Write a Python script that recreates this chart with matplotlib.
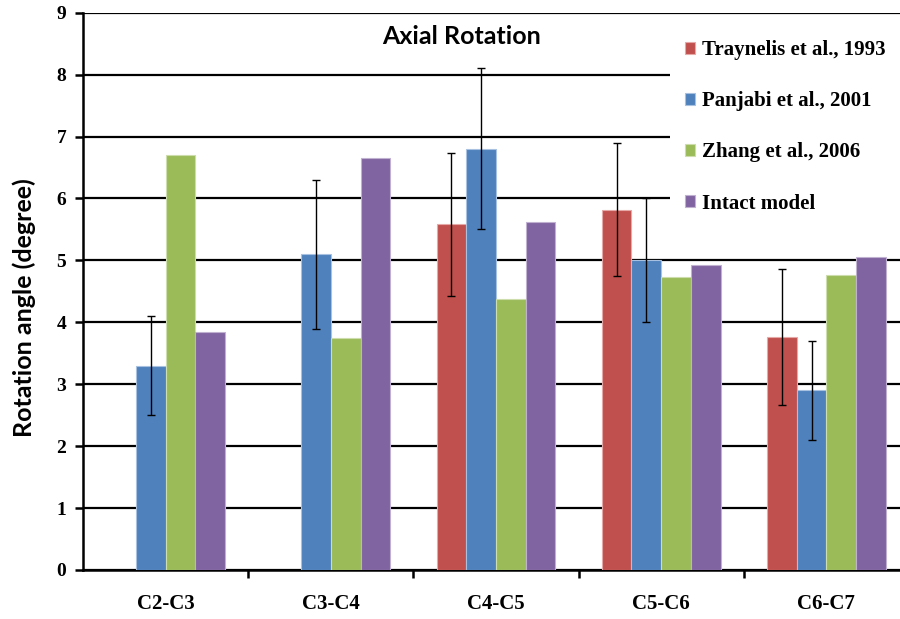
#!/usr/bin/env python3
"""
Axial rotation per cervical level: literature data vs. intact model
"""

import numpy as np
import matplotlib
matplotlib.use("Agg")
import matplotlib.pyplot as plt
from matplotlib.ticker import FixedLocator

levels = ["C2-C3", "C3-C4", "C4-C5", "C5-C6", "C6-C7"]
series_names = ["Traynelis et al., 1993", "Panjabi et al., 2001",
                "Zhang et al., 2006", "Intact model"]

traynelis = [np.nan, np.nan, 5.58, 5.82, 3.76]
traynelis_sd = [np.nan, np.nan, 1.16, 1.08, 1.10]
panjabi = [3.3, 5.1, 6.8, 5.0, 2.9]
panjabi_sd = [0.8, 1.2, 1.3, 1.0, 0.8]
zhang = [6.7, 3.75, 4.38, 4.73, 4.77]
intact = [3.84, 6.65, 5.62, 4.93, 5.05]

values = [traynelis, panjabi, zhang, intact]
errors = [traynelis_sd, panjabi_sd, None, None]
colors = ["#C0504D", "#4F81BD", "#9BBB59", "#8064A2"]
edges = ["#E6A9A7", "#A9C1E0", "#CDDDAC", "#C0B1D1"]

SERIF = ["Liberation Serif", "DejaVu Serif"]
SANS = ["Lato", "DejaVu Sans"]

W, H = 900, 619
fig = plt.figure(figsize=(W / 100, H / 100), dpi=100)
# plot area runs a little past the right border of the image
ax = fig.add_axes([83 / W, 1 - 570 / H, 826 / W, 557.3 / H])

x = np.arange(len(levels))
w = 0.18
for i, (vals, err) in enumerate(zip(values, errors)):
    pos = x + (i - 1.5) * w
    ax.bar(pos, vals, width=w, color=colors[i], edgecolor=edges[i],
           linewidth=0.8, label=series_names[i], zorder=3)
    if err is not None:
        ax.errorbar(pos, vals, yerr=err, fmt="none", ecolor="black",
                    elinewidth=1.0, capsize=3, capthick=1.0, zorder=4)

ax.set_xlim(-0.5, len(levels) - 0.5)
ax.set_ylim(0, 9)
ax.set_yticks(range(0, 10))
ax.set_xticks(x)
ax.set_xticklabels(levels)
ax.xaxis.set_minor_locator(FixedLocator(np.arange(0.5, len(levels) - 0.5, 1)))
ax.tick_params(axis="x", which="major", length=0, pad=17)
ax.tick_params(axis="x", which="minor", length=6, width=1.8, direction="out")
ax.tick_params(axis="y", length=6, width=1.8, direction="out", pad=6)
for lab in ax.get_xticklabels():
    lab.set_family(SERIF)
    lab.set_fontweight("bold")
    lab.set_fontsize(15)
for lab in ax.get_yticklabels():
    lab.set_family(SERIF)
    lab.set_fontweight("bold")
    lab.set_fontsize(14)

ax.grid(True, axis="y", color="black", linewidth=1.6, zorder=0)
ax.set_axisbelow(True)
for side in ["top", "right"]:
    ax.spines[side].set_visible(False)
for side in ["left", "bottom"]:
    ax.spines[side].set_linewidth(1.8)

ax.set_ylabel("Rotation angle (degree)", family=SANS, fontweight="bold",
              fontsize=18)
ax.yaxis.set_label_coords((36 - 83) / 826, 0.471)
fig.text(462 / W, 1 - 37 / H, "Axial Rotation", ha="center", va="center",
         family=SANS, fontweight="bold", fontsize=18)

# white legend box without border, hides the grid behind it
leg = ax.legend(loc="upper left", bbox_to_anchor=(670 / W, 1 - 25 / H),
                bbox_transform=fig.transFigure,
                prop={"family": SERIF, "weight": "bold", "size": 15},
                frameon=True, fancybox=False, framealpha=1, edgecolor="none",
                facecolor="white", handlelength=0.5, handleheight=0.5,
                handletextpad=0.3, labelspacing=1.5, borderpad=0.72,
                borderaxespad=0)
leg.set_zorder(5)

plt.savefig("out.png", dpi=100)
plt.close()
